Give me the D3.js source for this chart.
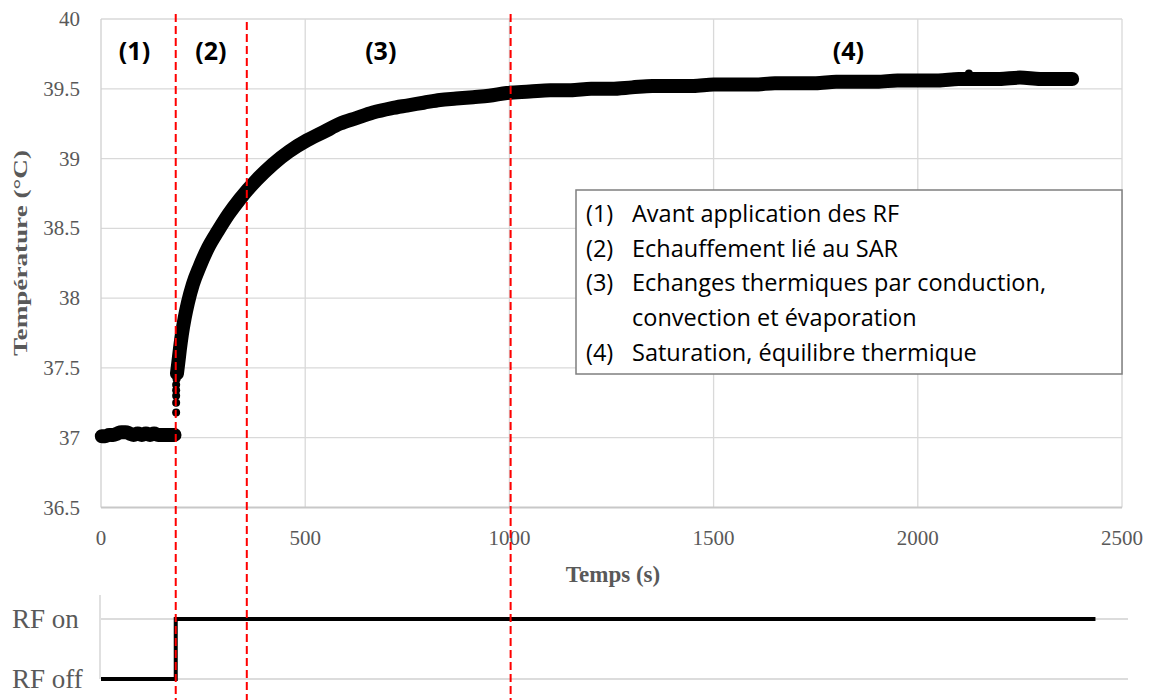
<!DOCTYPE html>
<html lang="fr">
<head>
<meta charset="UTF-8" />
<title>Température - exposition RF</title>
<script src="https://d3js.org/d3.v7.min.js"></script>
<style>
  body { margin: 0; background: #ffffff; }
  svg { display: block; }
  .tick-label { font-family: "Liberation Serif", "Times New Roman", serif; font-size: 21px; fill: #595959; }
  .axis-title { font-family: "Liberation Serif", "Times New Roman", serif; font-weight: bold; fill: #595959; }
  .phase { font-family: "Open Sans", Lato, sans-serif; font-weight: bold; font-size: 25px; fill: #000; }
  .legend-text { font-family: "Open Sans", Lato, sans-serif; font-size: 23.5px; fill: #000; }
</style>
</head>
<body>
<div id="chart"></div>
<script>
// temperature (°C) vs time (s)
const baseTime = [2, 10, 20, 30, 40, 50, 60, 70, 80, 90, 100, 110, 120, 130, 140, 150, 160, 170, 180];
const baseTemp = [37.01, 37.01, 37.02, 37.02, 37.03, 37.04, 37.04, 37.03, 37.02, 37.03, 37.02, 37.03, 37.02, 37.03, 37.02, 37.02, 37.02, 37.02, 37.02];

const jumpTime = [184, 184, 184, 184, 184, 185];
const jumpTemp = [37.18, 37.25, 37.30, 37.34, 37.38, 37.42];

const riseTime = [186, 189, 193, 198, 205, 213, 225, 242, 262, 286, 312, 340, 382, 421, 460, 504, 545, 585, 625, 666,
  710, 749, 790, 830, 870, 911, 950, 994, 1050, 1100, 1150, 1200, 1250, 1300, 1350, 1400, 1450, 1500, 1550, 1600,
  1650, 1700, 1750, 1800, 1850, 1900, 1950, 2000, 2050, 2100, 2150, 2200, 2250, 2300, 2350, 2378];
const riseTemp = [37.46, 37.53, 37.63, 37.74, 37.86, 37.97, 38.10, 38.23, 38.36, 38.48, 38.60, 38.71, 38.85, 38.96, 39.05, 39.13, 39.19, 39.25, 39.29, 39.33,
  39.36, 39.38, 39.40, 39.42, 39.43, 39.44, 39.45, 39.47, 39.48, 39.49, 39.49, 39.50, 39.50, 39.51, 39.52, 39.52, 39.52, 39.53, 39.53, 39.53,
  39.54, 39.54, 39.54, 39.55, 39.55, 39.55, 39.56, 39.56, 39.56, 39.57, 39.57, 39.57, 39.58, 39.57, 39.57, 39.57];

const outlierTime = [2125];
const outlierTemp = [39.61];

// RF command
const rfTime = [0, 183, 2435];
const rfState = ["RF off", "RF on", "RF on"];
const rfLabels = ["RF off", "RF on"];

// phase boundaries and labels
const phaseBounds = [183, 357, 1003];
const phaseLabelTime = [82, 269, 685, 1830];
const phaseLabels = ["(1)", "(2)", "(3)", "(4)"];

const xTicks = [0, 500, 1000, 1500, 2000, 2500];
const yTicks = [36.5, 37, 37.5, 38, 38.5, 39, 39.5, 40];
const yTickLabels = ["36.5", "37", "37.5", "38", "38.5", "39", "39.5", "40"];

const legendNums = ["(1)", "(2)", "(3)", "", "(4)"];
const legendLines = ["Avant application des RF", "Echauffement lié au SAR", "Echanges thermiques par conduction,",
  "convection et évaporation", "Saturation, équilibre thermique"];

const W = 1153, H = 700;
const svg = d3.select("#chart").append("svg").attr("width", W).attr("height", H);

const x = d3.scaleLinear().domain([0, 2500]).range([101, 1122]);
const y = d3.scaleLinear().domain([36.5, 40]).range([507.5, 19]);
const yRF = d3.scalePoint().domain(rfLabels).range([679, 619]);

// grid
svg.append("g").selectAll("line").data(yTicks.slice(1)).join("line")
  .attr("x1", x(0)).attr("x2", x(2500))
  .attr("y1", d => y(d)).attr("y2", d => y(d))
  .attr("stroke", "#d9d9d9").attr("stroke-width", 1.3);
svg.append("g").selectAll("line").data(xTicks.slice(1)).join("line")
  .attr("x1", d => x(d)).attr("x2", d => x(d))
  .attr("y1", y(40)).attr("y2", y(36.5))
  .attr("stroke", "#d9d9d9").attr("stroke-width", 1.3);
// axis lines
svg.append("line").attr("x1", x(0)).attr("x2", x(0)).attr("y1", y(40)).attr("y2", y(36.5))
  .attr("stroke", "#d0d0d0").attr("stroke-width", 1.3);
svg.append("line").attr("x1", x(0)).attr("x2", x(2500)).attr("y1", y(36.5)).attr("y2", y(36.5))
  .attr("stroke", "#c8c8c8").attr("stroke-width", 2);

// tick labels
svg.append("g").selectAll("text").data(yTicks).join("text")
  .attr("class", "tick-label")
  .attr("x", 80).attr("y", d => y(d))
  .attr("text-anchor", "end").attr("dominant-baseline", "central")
  .text((d, i) => yTickLabels[i]);
svg.append("g").selectAll("text").data(xTicks).join("text")
  .attr("class", "tick-label")
  .attr("x", d => x(d)).attr("y", 538)
  .attr("text-anchor", "middle").attr("dominant-baseline", "central")
  .text(d => d);

// axis titles
svg.append("text").attr("class", "axis-title")
  .attr("x", 613).attr("y", 574)
  .attr("text-anchor", "middle").attr("dominant-baseline", "central")
  .style("font-size", "23px")
  .text("Temps (s)");
svg.append("text").attr("class", "axis-title")
  .attr("transform", "translate(20,253) rotate(-90)")
  .attr("text-anchor", "middle").attr("dominant-baseline", "central")
  .attr("textLength", 206).attr("lengthAdjust", "spacingAndGlyphs")
  .style("font-size", "19px")
  .text("Température (°C)");

// measured temperature
const base = baseTime.map((t, i) => [t, baseTemp[i]]);
const rise = riseTime.map((t, i) => [t, riseTemp[i]]);
const jump = jumpTime.map((t, i) => [t, jumpTemp[i]]);
const outl = outlierTime.map((t, i) => [t, outlierTemp[i]]);

const line = d3.line().x(d => x(d[0])).y(d => y(d[1])).curve(d3.curveMonotoneX);
[base, rise].forEach(s => {
  svg.append("path").datum(s)
    .attr("d", line).attr("fill", "none")
    .attr("stroke", "#000").attr("stroke-width", 14)
    .attr("stroke-linecap", "round").attr("stroke-linejoin", "round");
});
svg.append("g").selectAll("circle").data(base.concat(rise, jump, outl)).join("circle")
  .attr("cx", d => x(d[0])).attr("cy", d => y(d[1])).attr("r", 4).attr("fill", "#000");

// phase labels
svg.append("g").selectAll("text").data(phaseLabels).join("text")
  .attr("class", "phase")
  .attr("x", (d, i) => x(phaseLabelTime[i])).attr("y", 50)
  .attr("text-anchor", "middle").attr("dominant-baseline", "central")
  .text(d => d);

// legend box
const lg = svg.append("g");
lg.append("rect").attr("x", 576).attr("y", 190).attr("width", 546).attr("height", 184)
  .attr("fill", "#fff").attr("stroke", "#7f7f7f").attr("stroke-width", 1.5);
lg.selectAll(".ln").data(legendNums).join("text")
  .attr("class", "legend-text ln")
  .attr("x", 586).attr("y", (d, i) => 213 + i * 34.7)
  .attr("dominant-baseline", "central").text(d => d);
lg.selectAll(".lt").data(legendLines).join("text")
  .attr("class", "legend-text lt")
  .attr("x", 632).attr("y", (d, i) => 213 + i * 34.7)
  .attr("dominant-baseline", "central").text(d => d);

// RF panel
svg.append("line").attr("x1", x(0) - 1).attr("x2", x(0) - 1).attr("y1", 595).attr("y2", yRF("RF off"))
  .attr("stroke", "#d0d0d0").attr("stroke-width", 1.3);
svg.append("g").selectAll("line").data(rfLabels).join("line")
  .attr("x1", x(0)).attr("x2", 1128)
  .attr("y1", d => yRF(d)).attr("y2", d => yRF(d))
  .attr("stroke", "#d0d0d0").attr("stroke-width", 1.5);
svg.append("g").selectAll("text").data(rfLabels).join("text")
  .attr("class", "tick-label")
  .attr("x", 12).attr("y", d => yRF(d))
  .attr("dominant-baseline", "central")
  .style("font-size", "27px")
  .text(d => d);
const rf = rfTime.map((t, i) => [t, rfState[i]]);
svg.append("path").datum(rf)
  .attr("d", d3.line().x(d => x(d[0])).y(d => yRF(d[1])).curve(d3.curveStepAfter))
  .attr("fill", "none").attr("stroke", "#000").attr("stroke-width", 4);

// phase boundaries (dashed red)
svg.append("g").selectAll("line").data(phaseBounds).join("line")
  .attr("x1", d => x(d)).attr("x2", d => x(d))
  .attr("y1", (d, i) => i === 1 ? 22 : 14).attr("y2", H)
  .attr("stroke", "#ff0000").attr("stroke-width", 2)
  .attr("stroke-dasharray", "8,4");
</script>
</body>
</html>
